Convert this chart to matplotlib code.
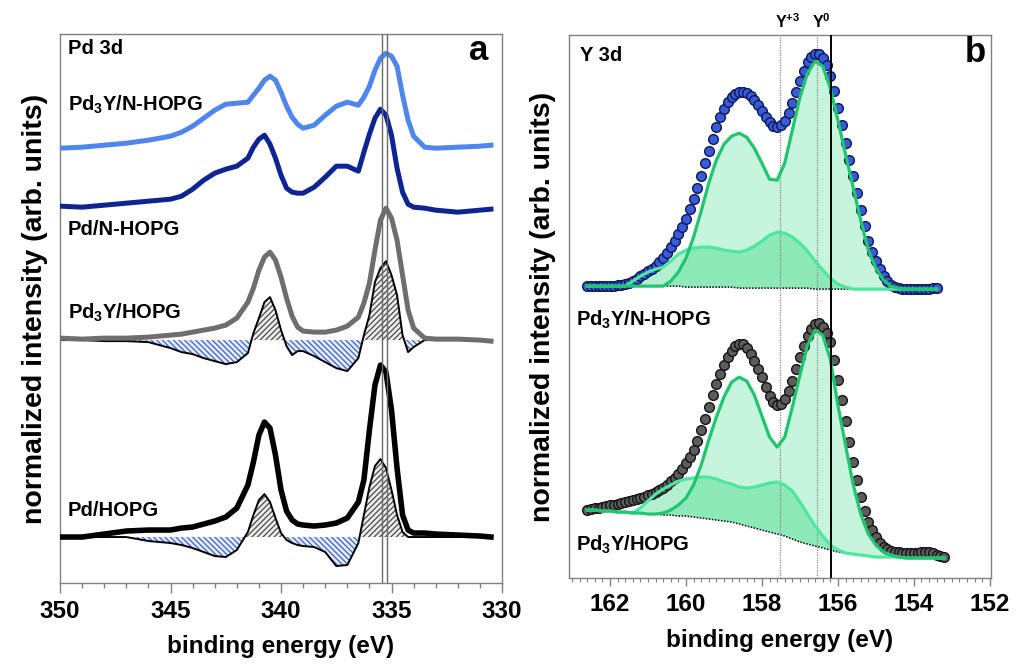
import numpy as np
import matplotlib
matplotlib.use('Agg')
import matplotlib.pyplot as plt
from matplotlib.ticker import MultipleLocator

plt.rcParams['font.family'] = ['Liberation Sans', 'DejaVu Sans']
plt.rcParams['font.weight'] = 'bold'
plt.rcParams['mathtext.fontset'] = 'custom'
plt.rcParams['mathtext.rm'] = 'Liberation Sans:bold'
plt.rcParams['mathtext.bf'] = 'Liberation Sans:bold'
plt.rcParams['mathtext.default'] = 'bf'
plt.rcParams['hatch.linewidth'] = 0.9

# ---- Pd 3d: stacked normalized spectra (offsets included) ----
pd_energy = [350, 349, 348, 347, 346, 345, 344.5, 344, 343.5, 343, 342.5, 342, 341.5,
             341.25, 341, 340.75, 340.5, 340.25, 340, 339.75, 339.5, 339.25, 339,
             338.5, 338, 337.5, 337, 336.5, 336.25, 336, 335.75, 335.5, 335.25, 335,
             334.75, 334.5, 334.25, 334, 333.5, 333, 332, 331, 330.5]

pd3y_nhopg = [43.5, 43.6, 43.8, 44.0, 44.3, 44.7, 45.1, 45.7, 46.5, 47.3, 47.9, 48.0, 48.1,
              48.8, 49.5, 50.3, 50.7, 50.3, 49.1, 47.7, 46.6, 45.9, 45.5,
              45.8, 46.8, 47.7, 48.1, 47.8, 48.6, 49.7, 51.3, 52.5, 53.0, 52.7,
              51.7, 48.8, 46.3, 44.7, 43.6, 43.5, 43.6, 43.7, 43.8]

pd_nhopg = [37.7, 37.6, 37.8, 38.0, 38.2, 38.4, 38.7, 39.4, 40.3, 41.0, 41.4, 41.7, 42.5,
            43.6, 44.4, 44.8, 43.9, 42.5, 40.8, 39.5, 39.1, 39.0, 39.0,
            39.6, 40.6, 41.7, 41.7, 41.2, 43.1, 44.9, 46.5, 47.4, 46.8, 44.8,
            41.5, 39.1, 37.9, 37.6, 37.5, 37.3, 37.1, 37.3, 37.4]

pd3y_hopg = [24.5, 24.4, 24.5, 24.5, 24.6, 24.8, 24.9, 25.1, 25.3, 25.5, 25.8, 26.5, 28.1,
             29.5, 31.3, 32.6, 33.1, 32.3, 30.6, 28.5, 26.7, 25.6, 25.2,
             25.1, 25.1, 25.3, 25.7, 26.6, 28.0, 30.0, 33.3, 36.3, 37.5, 36.5,
             34.3, 30.8, 27.3, 25.5, 24.5, 24.4, 24.4, 24.3, 24.2]

pd3y_hopg_diff = [24.3, 24.3, 24.2, 24.2, 24.1, 23.5, 23.1, 22.9, 22.5, 22.2, 21.9, 22.1, 23.0,
                  25.0, 26.5, 28.1, 28.6, 27.3, 25.3, 23.7, 22.8, 23.2, 23.2,
                  22.7, 22.1, 21.5, 21.2, 22.5, 24.8, 26.8, 30.1, 31.5, 32.2, 30.8,
                  28.8, 24.8, 23.1, 23.6, 24.3, 24.3, 24.3, 24.3, 24.3]

pd_hopg = [4.6, 4.6, 4.9, 5.2, 5.3, 5.3, 5.5, 5.6, 5.9, 6.2, 6.6, 7.5, 9.8,
           12.1, 14.8, 16.1, 15.5, 12.8, 9.3, 7.2, 6.3, 5.9, 5.8,
           5.7, 5.8, 6.0, 6.5, 8.1, 10.3, 15.3, 19.8, 21.8, 21.1, 17.3,
           11.5, 6.8, 5.3, 5.0, 5.0, 4.9, 4.8, 4.7, 4.6]

pd_hopg_diff = [4.6, 4.6, 4.6, 4.6, 4.2, 4.0, 3.8, 3.5, 3.1, 2.7, 2.6, 3.3, 5.1,
                6.8, 8.3, 8.9, 8.1, 6.5, 5.0, 4.3, 4.0, 3.8, 3.7,
                3.6, 3.1, 1.7, 1.8, 4.0, 6.8, 9.6, 11.7, 12.4, 11.5, 9.3,
                6.8, 5.1, 4.6, 4.6, 4.6, 4.6, 4.6, 4.6, 4.6]

diff_zero = {'Pd3Y/HOPG': 24.3, 'Pd/HOPG': 4.6}
pd_markers = [335.45, 335.22]

# ---- Y 3d: measured points (0.1 eV steps) ----
y_energy_pts = np.round(np.arange(162.6, 153.15, -0.1), 1)

data_top = [29.2, 29.2, 29.2, 29.2, 29.2, 29.2, 29.2, 29.2, 29.3, 29.3,
            29.4, 29.5, 29.7, 29.9, 30.2, 30.4, 30.7, 30.9, 31.2, 31.6,
            32.0, 32.5, 33.1, 33.7, 34.4, 35.1, 35.9, 36.9, 37.9, 39.0,
            40.2, 41.5, 42.7, 43.9, 45.1, 46.1, 46.9, 47.6, 48.1, 48.4,
            48.6, 48.6, 48.5, 48.2, 47.8, 47.3, 46.7, 46.1, 45.6, 45.2,
            45.1, 45.3, 45.7, 46.5, 47.5, 48.6, 49.7, 50.7, 51.6, 52.1,
            52.4, 52.4, 52.0, 51.3, 50.2, 48.7, 47.0, 45.3, 43.5, 41.8,
            40.2, 38.5, 36.8, 35.2, 33.7, 32.6, 31.7, 30.9, 30.2, 29.7,
            29.3, 29.1, 29.0, 28.9, 28.9, 28.9, 28.9, 28.9, 28.9, 28.9,
            28.9, 29.0, 29.0]

data_bot = [6.8, 6.9, 7.0, 7.0, 7.1, 7.2, 7.3, 7.3, 7.4, 7.5,
            7.6, 7.7, 7.8, 7.9, 8.0, 8.1, 8.3, 8.4, 8.6, 8.8,
            9.0, 9.3, 9.7, 10.0, 10.4, 10.9, 11.5, 12.1, 12.8, 13.7,
            14.8, 15.9, 17.1, 18.3, 19.4, 20.4, 21.3, 22.1, 22.7, 23.2,
            23.4, 23.4, 23.0, 22.4, 21.7, 20.9, 20.1, 19.1, 18.2, 17.6,
            17.3, 17.4, 17.9, 18.7, 19.7, 20.9, 22.1, 23.2, 24.2, 24.9,
            25.4, 25.5, 25.1, 24.5, 23.6, 21.8, 19.8, 17.8, 15.7, 13.6,
            11.6, 9.8, 8.1, 6.7, 5.6, 4.8, 4.1, 3.5, 3.1, 2.9,
            2.7, 2.6, 2.6, 2.5, 2.5, 2.5, 2.5, 2.5, 2.6, 2.6,
            2.6, 2.5, 2.3, 2.2, 2.1]

# ---- Y 3d fit: Shirley background and Y0 / Y3+ doublets (0.2 eV steps) ----
y_energy_fit = np.round(np.arange(162.6, 153.1, -0.2), 1)

bg_top = [29.2, 29.2, 29.2, 29.2, 29.2, 29.2, 29.2, 29.2, 29.2, 29.2,
          29.2, 29.2, 29.2, 29.1, 29.1, 29.1, 29.1, 29.1, 29.1, 29.1,
          29.0, 29.0, 29.0, 29.0, 29.0, 29.0, 29.0, 29.0, 29.0, 29.0,
          28.9, 28.9, 28.9, 28.9, 28.9, 28.9, 28.9, 28.9, 28.9, 28.9,
          28.9, 28.9, 28.9, 28.9, 28.9, 28.9, 28.9]
y0_top = [29.2, 29.2, 29.2, 29.2, 29.2, 29.2, 29.2, 29.2, 29.2, 29.2,
          29.2, 29.7, 30.6, 32.0, 34.1, 36.7, 39.5, 41.8, 43.4, 44.2,
          44.5, 44.1, 43.0, 41.5, 39.9, 39.8, 41.5, 44.8, 48.1, 50.5,
          51.7, 51.2, 49.0, 45.8, 42.4, 39.1, 35.8, 32.8, 31.0, 29.8,
          29.2, 29.0, 28.9, 28.9, 28.9, 28.9, 28.9]
y3_top = [29.2, 29.2, 29.2, 29.2, 29.2, 29.2, 29.7, 30.2, 30.6, 30.9,
          31.1, 31.7, 32.4, 32.8, 33.0, 33.1, 33.1, 33.0, 32.8, 32.7,
          32.6, 32.8, 33.2, 33.7, 34.3, 34.6, 34.5, 34.1, 33.5, 32.7,
          31.7, 30.8, 30.0, 29.4, 29.1, 28.9, 28.9, 28.9, 28.9, 28.9,
          28.9, 28.9, 28.9, 28.9, 28.9, 28.9, 28.9]

bg_bot = [6.8, 6.8, 6.7, 6.7, 6.6, 6.6, 6.5, 6.5, 6.4, 6.4,
          6.3, 6.3, 6.2, 6.2, 6.1, 6.0, 5.9, 5.8, 5.7, 5.6,
          5.4, 5.2, 5.0, 4.8, 4.6, 4.4, 4.2, 3.9, 3.6, 3.4,
          3.2, 3.0, 2.8, 2.6, 2.5, 2.4, 2.3, 2.2, 2.1, 2.1,
          2.1, 2.1, 2.0, 2.0, 2.0, 2.0, 2.0, 2.0]
y0_bot = [6.8, 6.8, 6.7, 6.7, 6.6, 6.6, 6.5, 6.5, 6.4, 6.4,
          6.5, 6.8, 7.3, 8.0, 9.3, 11.3, 13.8, 16.1, 18.1, 19.6,
          20.1, 19.7, 18.3, 16.2, 14.1, 13.1, 14.1, 17.1, 20.3, 23.3,
          24.8, 24.3, 21.9, 17.3, 13.3, 9.4, 6.4, 4.4, 3.3, 2.6,
          2.3, 2.1, 2.0, 2.0, 2.0, 2.0, 2.0, 2.0]
y3_bot = [6.8, 6.8, 6.7, 6.7, 6.6, 6.6, 6.5, 7.0, 7.7, 8.4,
          8.9, 9.3, 9.7, 9.9, 10.0, 10.1, 10.1, 9.9, 9.6, 9.4,
          9.1, 9.0, 9.1, 9.3, 9.5, 9.6, 9.3, 8.7, 7.6, 6.4,
          5.2, 4.2, 3.3, 2.8, 2.5, 2.4, 2.3, 2.2, 2.1, 2.1,
          2.1, 2.1, 2.0, 2.0, 2.0, 2.0, 2.0, 2.0]

y_states = {r'Y$^{+3}$': 157.53, r'Y$^{0}$': 156.55}
y_metal_line = 156.17

SPINE = '#808080'


def style_axes(ax):
    for s in ax.spines.values():
        s.set_color(SPINE)
        s.set_linewidth(1.0)
    ax.set_yticks([])
    ax.tick_params(axis='x', which='both', direction='out', color=SPINE,
                   labelsize=17.5, pad=5)
    ax.set_xlabel('binding energy (eV)', fontsize=17.5, fontweight='bold', labelpad=9)
    ax.set_ylabel('normalized intensity (arb. units)', fontsize=20.5,
                  fontweight='bold', labelpad=9)


def hatched_difference(ax, e, d, zero):
    e = np.asarray(e)
    d = np.asarray(d)
    ax.fill_between(e, d, zero, where=d >= zero, interpolate=True,
                    facecolor='#ececec', edgecolor='#4a4a4a', hatch='//////',
                    linewidth=0, zorder=1)
    ax.fill_between(e, d, zero, where=d <= zero, interpolate=True,
                    facecolor='#e3eafb', edgecolor='#3d63c9', hatch='\\\\\\\\\\\\',
                    linewidth=0, zorder=1)
    ax.plot(e, d, color='black', lw=1.4, zorder=2)


fig = plt.figure(figsize=(10.16, 6.66), dpi=100)
ax_a = fig.add_axes([0.0591, 0.1246, 0.435, 0.824])
ax_b = fig.add_axes([0.560, 0.1321, 0.4154, 0.815])

# ---- panel a ----
hatched_difference(ax_a, pd_energy, pd3y_hopg_diff, diff_zero['Pd3Y/HOPG'])
hatched_difference(ax_a, pd_energy, pd_hopg_diff, diff_zero['Pd/HOPG'])
ax_a.plot(pd_energy, pd3y_nhopg, color='#4f86ee', lw=3.6, zorder=3)
ax_a.plot(pd_energy, pd_nhopg, color='#0c2592', lw=3.6, zorder=3)
ax_a.plot(pd_energy, pd3y_hopg, color='#6e6e6e', lw=3.6, zorder=3)
ax_a.plot(pd_energy, pd_hopg, color='black', lw=4.0, zorder=3)
for x in pd_markers:
    ax_a.axvline(x, color='#6a6a6a', lw=1.0, zorder=4)

ax_a.set_xlim(350, 330)
ax_a.set_ylim(0, 54.9)
ax_a.xaxis.set_major_locator(MultipleLocator(5))
ax_a.xaxis.set_minor_locator(MultipleLocator(1))
ax_a.tick_params(axis='x', which='major', length=7, width=1)
ax_a.tick_params(axis='x', which='minor', length=3.5, width=1)
style_axes(ax_a)

ax_a.text(0.018, 0.974, 'Pd 3d', transform=ax_a.transAxes, fontsize=14.5,
          ha='left', va='center')
ax_a.text(0.946, 0.971, 'a', transform=ax_a.transAxes, fontsize=25,
          ha='center', va='center')
for label, yf in [(r'Pd$_3$Y/N-HOPG', 0.871), ('Pd/N-HOPG', 0.645),
                  (r'Pd$_3$Y/HOPG', 0.492), ('Pd/HOPG', 0.133)]:
    ax_a.text(0.018, yf, label, transform=ax_a.transAxes, fontsize=14.5,
              ha='left', va='center')

# ---- panel b ----
fill_green = '#35d882'
fits = [(y_energy_fit[:len(bg_top)], bg_top, y0_top, y3_top),
        (y_energy_fit, bg_bot, y0_bot, y3_bot)]
for e, bg, y0, y3 in fits:
    ax_b.fill_between(e, bg, y0, facecolor=fill_green, alpha=0.28, linewidth=0, zorder=1)
    ax_b.fill_between(e, bg, y3, facecolor=fill_green, alpha=0.38, linewidth=0, zorder=1)
    ax_b.plot(e, bg, color='black', lw=1.1, ls=(0, (1, 1)), zorder=2)

ax_b.plot(y_energy_pts[:len(data_top)], data_top, 'o', ms=7, mfc='#3a5bd8',
          mec='#0b1857', mew=1.0, zorder=3)
ax_b.plot(y_energy_pts, data_bot, 'o', ms=7, mfc='#5c5c5c',
          mec='#141414', mew=1.0, zorder=3)

for e, bg, y0, y3 in fits:
    ax_b.plot(e, y3, color='#4fe6a2', lw=2.3, zorder=4)
    ax_b.plot(e, y0, color='#1fc56f', lw=2.3, zorder=4)

for label, x in y_states.items():
    ax_b.axvline(x, color='#8a8a8a', lw=0.9, ls=(0, (1, 1)), zorder=2.5)
    ax_b.annotate(label, xy=(x, 1.0), xycoords=('data', 'axes fraction'),
                  xytext=(-3.8, 3), textcoords='offset points',
                  ha='left', va='bottom', fontsize=11.5)
ax_b.axvline(y_metal_line, color='black', lw=1.4, zorder=5)

ax_b.set_xlim(163.08, 151.97)
ax_b.set_ylim(0, 54.3)
ax_b.xaxis.set_major_locator(MultipleLocator(2))
ax_b.xaxis.set_minor_locator(MultipleLocator(0.2))
ax_b.tick_params(axis='x', which='major', length=6, width=1)
ax_b.tick_params(axis='x', which='minor', length=3, width=0.8)
style_axes(ax_b)

ax_b.text(0.026, 0.963, 'Y 3d', transform=ax_b.transAxes, fontsize=14.5,
          ha='left', va='center')
ax_b.text(0.962, 0.969, 'b', transform=ax_b.transAxes, fontsize=25,
          ha='center', va='center')
ax_b.text(0.017, 0.475, r'Pd$_3$Y/N-HOPG', transform=ax_b.transAxes, fontsize=14.5,
          ha='left', va='center')
ax_b.text(0.017, 0.061, r'Pd$_3$Y/HOPG', transform=ax_b.transAxes, fontsize=14.5,
          ha='left', va='center')

fig.savefig('out.png', dpi=100)
